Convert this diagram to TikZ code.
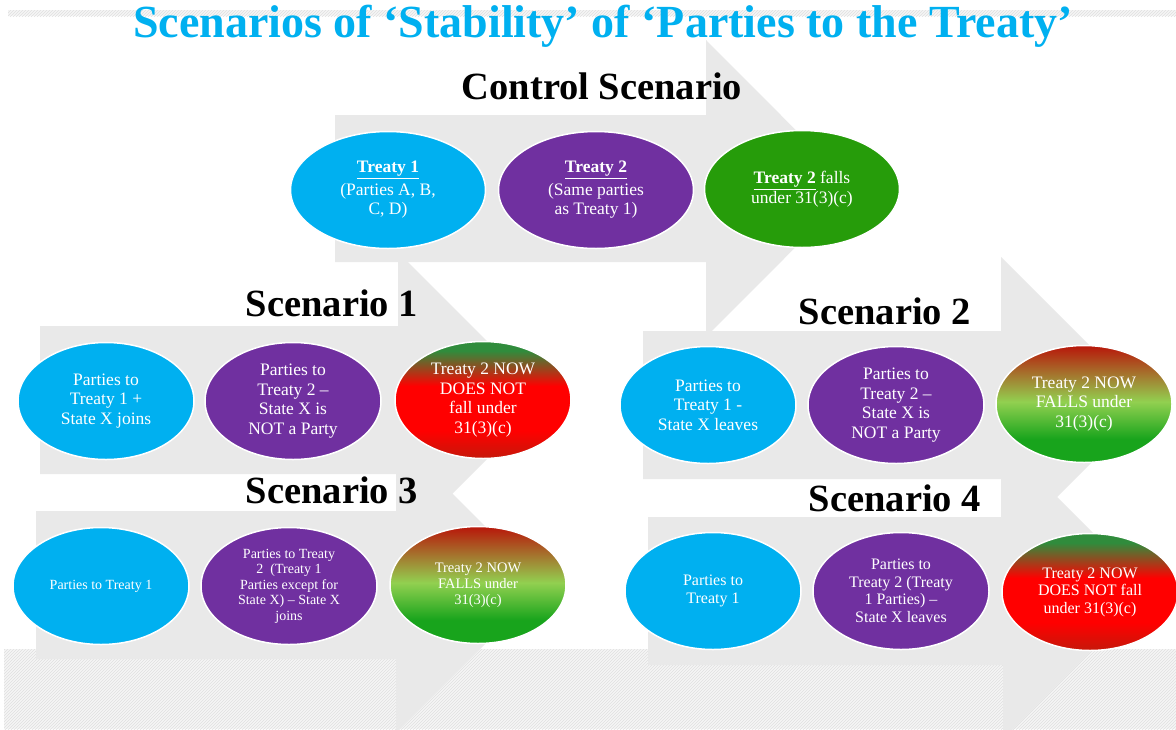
\documentclass[tikz,border=0pt]{standalone}
\usepackage{fontspec}
\setmainfont{Liberation Serif}
\usetikzlibrary{shapes.geometric,patterns}
\definecolor{cyanA}{RGB}{0,176,240}
\definecolor{purpA}{RGB}{112,48,160}
\definecolor{greenA}{RGB}{38,156,10}
\definecolor{arrowgrey}{RGB}{233,233,233}
\definecolor{dredA}{RGB}{198,24,10}
\definecolor{redA}{RGB}{255,0,0}
\definecolor{topgreen}{RGB}{48,140,60}
\definecolor{lgreen}{RGB}{146,208,80}
\definecolor{bgreen}{RGB}{24,164,28}
\definecolor{topred}{RGB}{184,22,10}
\definecolor{titlecyan}{RGB}{0,176,240}
\pgfdeclareverticalshading{notfall}{100bp}{color(0bp)=(dredA); color(25bp)=(dredA); color(37bp)=(redA); color(56bp)=(redA); color(71bp)=(topgreen); color(100bp)=(topgreen)}
\pgfdeclareverticalshading{nowfalls}{100bp}{color(0bp)=(bgreen); color(25bp)=(bgreen); color(35bp)=(bgreen); color(51bp)=(lgreen); color(75bp)=(topred); color(100bp)=(topred)}
\begin{document}
\begin{tikzpicture}[x=1pt,y=-1pt,
  bgarrow/.style={fill=arrowgrey},
  ell/.style={ellipse, draw=white, line width=1.5pt, minimum width=176pt, minimum height=117pt, inner sep=0pt, text=white, align=center, font=\fontsize{17.5}{19.5}\selectfont},
  bigell/.style={ell, minimum width=195pt},
  lbl/.style={font=\fontsize{38.5}{40}\selectfont\bfseries, text=black, inner sep=0pt},
  hatch/.style={pattern=north east lines, pattern color=black!12}
]
\useasboundingbox (0,0) rectangle (1176,729);
\fill[white] (0,0) rectangle (1176,729);
% hatched bands
\fill[black!4] (4,649) rectangle (1176,729);
\fill[hatch] (4,649) rectangle (1176,729);
\fill[black!4] (8,10) rectangle (1176,16);
\fill[hatch] (8,10) rectangle (1176,16);

% background block arrows
\fill[bgarrow] (40,326) -- (398,326) -- (398,252) -- (546,400) -- (398,548) -- (398,474) -- (40,474) -- cycle;
\fill[bgarrow] (36,511) -- (396,511) -- (396,437) -- (544,585) -- (396,733) -- (396,659) -- (36,659) -- cycle;
\fill[bgarrow] (643,331) -- (1001,331) -- (1001,257) -- (1149,405) -- (1001,553) -- (1001,479) -- (643,479) -- cycle;
\fill[bgarrow] (648,517) -- (1003,517) -- (1003,443) -- (1151,591) -- (1003,739) -- (1003,665) -- (648,665) -- cycle;
\fill[bgarrow] (335,115) -- (706,115) -- (706,40) -- (854,188.5) -- (706,337) -- (706,262) -- (335,262) -- cycle;

% title and labels
\node[font=\fontsize{46}{48}\selectfont\bfseries, text=titlecyan, inner sep=0pt, anchor=base] (title) at (603,37) {Scenarios of ‘Stability’ of ‘Parties to the Treaty’};
\node[lbl] (lc) at (602,86) {Control Scenario};
\node[lbl] (l1) at (332,303) {Scenario 1};
\node[lbl] (l3) at (332,490) {Scenario 3};
\node[lbl] (l2) at (885,311) {Scenario 2};
\node[lbl] (l4) at (895,498) {Scenario 4};

% control scenario
\node[bigell, fill=cyanA] (c1) at (388,190) {\underline{\textbf{Treaty 1}}\\[3pt](Parties A, B,\\ C, D)};
\node[bigell, fill=purpA] (c2) at (596,190) {\underline{\textbf{Treaty 2}}\\[3pt](Same parties\\ as Treaty 1)};
\node[bigell, fill=greenA] (c3) at (802,189) {\underline{\textbf{Treaty 2}} falls\\ under 31(3)(c)};

% scenario 1
\node[ell, fill=cyanA] (s1a) at (106,401) {Parties to\\ Treaty 1 +\\ State X joins};
\node[ell, fill=purpA] (s1b) at (293,401) {Parties to\\ Treaty 2 –\\ State X is\\ NOT a Party};
\node[ell, shade, shading=notfall] (s1c) at (483,400) {Treaty 2 NOW\\ DOES NOT\\ fall under\\ 31(3)(c)};

% scenario 2
\node[ell, fill=cyanA] (s2a) at (708,405) {Parties to\\ Treaty 1 -\\ State X leaves};
\node[ell, fill=purpA] (s2b) at (896,405) {Parties to\\ Treaty 2 –\\ State X is\\ NOT a Party};
\node[ell, shade, shading=nowfalls] (s2c) at (1084,404) {Treaty 2 NOW\\ FALLS under\\ 31(3)(c)};

% scenario 3
\node[ell, fill=cyanA, font=\fontsize{14}{15.5}\selectfont] (s3a) at (101,586) {Parties to Treaty 1};
\node[ell, fill=purpA, font=\fontsize{14}{15.5}\selectfont] (s3b) at (289,586) {Parties to Treaty\\ 2\ \ (Treaty 1\\ Parties except for\\ State X) – State X\\ joins};
\node[ell, shade, shading=nowfalls, font=\fontsize{14.5}{16}\selectfont] (s3c) at (478,585) {Treaty 2 NOW\\ FALLS under\\ 31(3)(c)};

% scenario 4
\node[ell, fill=cyanA, font=\fontsize{16}{17.5}\selectfont] (s4a) at (713,591) {Parties to\\ Treaty 1};
\node[ell, fill=purpA, font=\fontsize{16}{17.5}\selectfont] (s4b) at (901,591) {Parties to\\ Treaty 2 (Treaty\\ 1 Parties) –\\ State X leaves};
\node[ell, shade, shading=notfall, font=\fontsize{16}{17.5}\selectfont] (s4c) at (1090,592) {Treaty 2 NOW\\ DOES NOT fall\\ under 31(3)(c)};
\end{tikzpicture}
\end{document}
